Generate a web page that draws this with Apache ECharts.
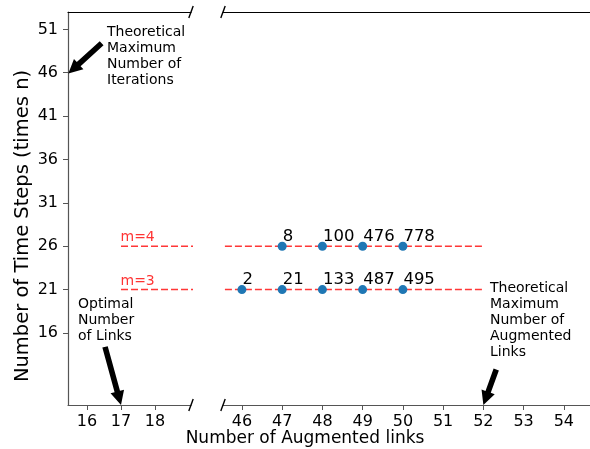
<!DOCTYPE html>
<html>
<head>
<meta charset="utf-8">
<script src="https://cdn.jsdelivr.net/npm/echarts@6/dist/echarts.min.js"></script>
<style>
html,body{margin:0;padding:0;background:#fff;}
#main{width:590px;height:449px;}
</style>
</head>
<body>
<div id="main"></div>
<script>
// tick labels
var leftTicks = [16, 17, 18];
var rightTicks = [46, 47, 48, 49, 50, 51, 52, 53, 54];
var yTicks = [16, 21, 26, 31, 36, 41, 46, 51];

// m=3 runs
var m3Step = 21;
var m3Links = [46, 47, 48, 49, 50];
var m3Counts = [2, 21, 133, 487, 495];

// m=4 runs
var m4Step = 26;
var m4Links = [47, 48, 49, 50];
var m4Counts = [8, 100, 476, 778];

// dashed reference lines
var lineStart = 17;
var lineEnd = 52;

var FONT = 'DejaVu Sans';
var refColor = 'rgba(255,20,20,0.85)';
var dotColor = '#1f77b4';
var spineColor = '#555';
var yMin = 7.7, yMax = 53.0;

var gL = {left: 68, top: 12, width: 123, height: 393};
var gR = {left: 223, top: 12, width: 367, height: 393};

var chart = echarts.init(document.getElementById('main'));

function bottomAxis(grid, min, max, ticks){
	return {
		gridIndex: grid, type: 'value', min: min, max: max,
		axisLine: {show: true, onZero: false, lineStyle: {color: spineColor, width: 1.2}},
		axisTick: {show: true, length: 5, customValues: ticks, lineStyle: {color: spineColor, width: 1}},
		axisLabel: {customValues: ticks, fontSize: 16, color: '#000', margin: 9, fontFamily: FONT},
		splitLine: {show: false}
	};
}
function topAxis(grid, min, max){
	return {
		gridIndex: grid, type: 'value', position: 'top', min: min, max: max,
		axisLine: {show: true, onZero: false, lineStyle: {color: '#000', width: 1.2}},
		axisTick: {show: false}, axisLabel: {show: false}, splitLine: {show: false}
	};
}
function refLine(xi, step){
	return {
		type: 'line', xAxisIndex: xi, yAxisIndex: xi, silent: true, symbol: 'none', clip: true, z: 1,
		data: [[lineStart, step], [lineEnd, step]],
		lineStyle: {color: refColor, type: [7, 3], width: 1.5}
	};
}
function points(links, step, counts){
	return {
		type: 'scatter', xAxisIndex: 1, yAxisIndex: 1, symbolSize: 9, z: 3,
		itemStyle: {color: dotColor, opacity: 1},
		data: links.map(function(x, i){ return [x, step, counts[i]]; }),
		label: {
			show: true, position: [5, -14], fontSize: 16.5, color: '#000', fontFamily: FONT,
			formatter: function(p){ return p.value[2]; }
		}
	};
}

chart.setOption({
	animation: false,
	grid: [gL, gR],
	xAxis: [
		bottomAxis(0, 15.44, 19.06, leftTicks),
		bottomAxis(1, 45.53, 54.65, rightTicks),
		topAxis(0, 15.44, 19.06),
		topAxis(1, 45.53, 54.65)
	],
	yAxis: [
		{
			gridIndex: 0, type: 'value', min: yMin, max: yMax,
			axisLine: {show: true, lineStyle: {color: spineColor, width: 1.2}},
			axisTick: {show: true, length: 5, customValues: yTicks, lineStyle: {color: spineColor}},
			axisLabel: {customValues: yTicks, fontSize: 16, color: '#000', margin: 10, fontFamily: FONT},
			splitLine: {show: false}
		},
		{gridIndex: 1, type: 'value', min: yMin, max: yMax, show: false}
	],
	series: [
		refLine(0, m4Step), refLine(0, m3Step),
		refLine(1, m4Step), refLine(1, m3Step),
		points(m4Links, m4Step, m4Counts),
		points(m3Links, m3Step, m3Counts),
		{
			type: 'scatter', xAxisIndex: 0, yAxisIndex: 0, symbolSize: 1, silent: true,
			itemStyle: {color: 'rgba(0,0,0,0)'},
			data: [[lineStart, m4Step, 'm=4'], [lineStart, m3Step, 'm=3']],
			label: {
				show: true, position: [0, -15], fontSize: 14, color: '#f00', fontFamily: FONT,
				formatter: function(p){ return p.value[2]; }
			}
		}
	]
});

// fat annotation arrow between two data points
function arrow(grid, from, to){
	var a = chart.convertToPixel({gridIndex: grid}, from);
	var b = chart.convertToPixel({gridIndex: grid}, to);
	var dx = b[0]-a[0], dy = b[1]-a[1];
	var len = Math.sqrt(dx*dx+dy*dy);
	var ux = dx/len, uy = dy/len, nx = -uy, ny = ux;
	var hw = 2.8, hh = 7, hl = 14;
	var bx = b[0]-ux*hl, by = b[1]-uy*hl;
	return {
		type: 'polygon', z: 10,
		shape: {points: [
			[a[0]+nx*hw, a[1]+ny*hw], [bx+nx*hw, by+ny*hw], [bx+nx*hh, by+ny*hh],
			[b[0], b[1]],
			[bx-nx*hh, by-ny*hh], [bx-nx*hw, by-ny*hw], [a[0]-nx*hw, a[1]-ny*hw]
		]},
		style: {fill: '#000'}
	};
}
function breakMark(cx, cy){
	return {type: 'line', z: 10, shape: {x1: cx-2.2, y1: cy+6, x2: cx+2.2, y2: cy-6}, style: {stroke: '#000', lineWidth: 1.4}};
}
function note(x, y, text){
	return {type: 'text', x: x, y: y, z: 10, style: {text: text, font: '14px "DejaVu Sans"', lineHeight: 16, fill: '#000', verticalAlign: 'top'}};
}

var lRight = gL.left + gL.width, rLeft = gR.left;
var gTop = gL.top, gBottom = gL.top + gL.height;

chart.setOption({
	graphic: [
		arrow(0, [16.43, 49.4], [15.45, 45.9]),
		arrow(0, [16.53, 14.4], [17, yMin]),
		arrow(1, [52.32, 11.8], [52, yMin]),
		breakMark(lRight, gTop), breakMark(rLeft, gTop),
		breakMark(lRight, gBottom), breakMark(rLeft, gBottom),
		note(107, 24, 'Theoretical\nMaximum\nNumber of\nIterations'),
		note(78, 296, 'Optimal\nNumber\nof Links'),
		note(490, 280, 'Theoretical\nMaximum\nNumber of\nAugmented\nLinks'),
		{type: 'text', x: 305, y: 439, style: {text: 'Number of Augmented links', font: '17px "DejaVu Sans"', fill: '#000', align: 'center', verticalAlign: 'middle'}},
		{type: 'text', x: 23, y: 226, rotation: Math.PI/2, style: {text: 'Number of Time Steps (times n)', font: '19.5px "DejaVu Sans"', fill: '#000', align: 'center', verticalAlign: 'middle'}}
	]
});
</script>
</body>
</html>
